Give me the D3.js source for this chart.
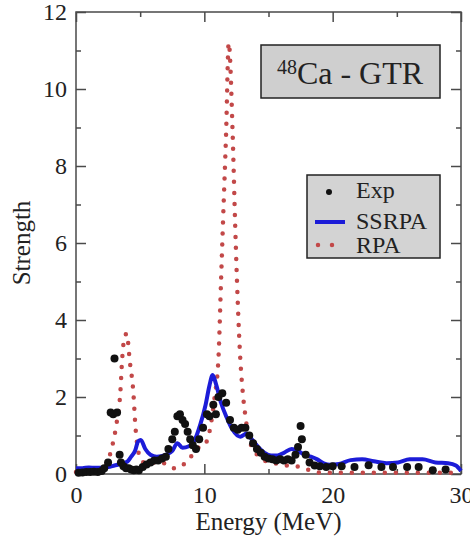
<!DOCTYPE html>
<html>
<head>
<meta charset="utf-8">
<script src="https://cdn.jsdelivr.net/npm/d3@7"></script>
<style>
  body { margin: 0; background: #fff; }
</style>
</head>
<body>
<div id="viz"></div>
<script>
// experimental points
const expE = [0.2, 0.5, 0.8, 1.1, 1.4, 1.7, 2.0, 2.2, 2.5, 2.7, 2.9, 3.0, 3.2, 3.4, 3.5, 3.7, 3.9, 4.1, 4.3, 4.5,
              4.7, 4.9, 5.2, 5.5, 5.8, 6.1, 6.4, 6.7, 7.0, 7.2, 7.5, 7.7, 7.9, 8.1, 8.3, 8.5, 8.7, 8.9, 9.1, 9.35,
              9.6, 9.9, 10.2, 10.4, 10.7, 10.9, 11.1, 11.4, 11.7, 12.0, 12.3, 12.6, 12.9, 13.2, 13.5, 13.8, 14.1, 14.4, 14.7, 15.0,
              15.3, 15.6, 15.9, 16.2, 16.5, 16.8, 17.1, 17.3, 17.5, 17.6, 17.9, 18.2, 18.6, 19.0, 19.5, 20.0, 20.7, 21.7, 22.8, 23.8,
              24.7, 25.8, 26.7, 27.8, 28.8];
const expS = [0.03, 0.04, 0.05, 0.05, 0.06, 0.05, 0.08, 0.15, 0.3, 1.6, 1.55, 3.0, 1.6, 0.5, 0.3, 0.2, 0.15, 0.15, 0.12, 0.1,
              0.12, 0.1, 0.18, 0.25, 0.3, 0.35, 0.35, 0.4, 0.45, 0.65, 0.9, 1.1, 1.5, 1.55, 1.4, 1.3, 1.1, 0.9, 0.75, 0.65,
              0.9, 1.2, 1.55, 1.5, 1.8, 1.55, 2.0, 2.1, 1.85, 1.4, 1.2, 1.15, 1.2, 1.2, 1.0, 0.8, 0.65, 0.55, 0.45, 0.4,
              0.38, 0.35, 0.38, 0.35, 0.38, 0.35, 0.5, 0.7, 1.25, 0.9, 0.5, 0.3, 0.22, 0.2, 0.18, 0.2, 0.2, 0.18, 0.23, 0.18,
              0.18, 0.18, 0.18, 0.1, 0.12];

// SSRPA curve
const ssrpaE = [0, 0.5, 1, 1.5, 2, 2.5, 3, 3.5, 4, 4.3, 4.6, 4.85, 5.05, 5.4, 5.8, 6.3, 7, 7.5, 7.9, 8.3,
                8.8, 9.2, 9.7, 10.1, 10.4, 10.65, 10.9, 11.3, 11.7, 12.2, 12.8, 13.3, 13.7, 14.2, 14.7, 15.2, 15.7, 16.2, 16.8, 17.3,
                17.8, 18.3, 18.8, 19.3, 19.8, 20.5, 21.4, 22.3, 23.2, 24.2, 25.1, 26, 27, 28, 29, 29.6, 30];
const ssrpaS = [0.15, 0.15, 0.17, 0.16, 0.16, 0.18, 0.22, 0.26, 0.32, 0.45, 0.6, 0.85, 0.88, 0.65, 0.5, 0.45, 0.5, 0.6, 0.8, 0.68,
                0.72, 0.85, 1.3, 1.8, 2.3, 2.57, 2.35, 1.85, 1.5, 1.15, 0.97, 1.05, 0.9, 0.7, 0.55, 0.48, 0.48, 0.55, 0.65, 0.6,
                0.5, 0.45, 0.38, 0.28, 0.24, 0.26, 0.36, 0.38, 0.33, 0.28, 0.3, 0.38, 0.38, 0.3, 0.28, 0.22, 0.08];

// RPA curve
const rpaE = [0, 0.5, 1, 1.5, 2, 2.3, 2.6, 2.8, 3.0, 3.2, 3.45, 3.6, 3.75, 3.95, 4.2, 4.45, 4.65, 4.85, 5.1, 5.6,
              6.2, 6.7, 7.2, 7.7, 8.2, 8.7, 9.2, 9.6, 10.0, 10.4, 10.8, 11.1, 11.3, 11.45, 11.7, 11.9, 12.2, 12.4, 12.6, 12.8,
              13.0, 13.2, 13.5, 13.9, 14.5, 15, 15.5, 16, 16.5, 17, 17.5, 18, 18.5, 19, 20, 22, 24, 26, 28, 30];
const rpaS = [0.05, 0.06, 0.08, 0.1, 0.12, 0.2, 0.45, 0.7, 1.0, 1.4, 2.1, 3.0, 3.5, 3.65, 2.9, 2.2, 1.15, 0.6, 0.35, 0.25,
              0.3, 0.3, 0.2, 0.15, 0.2, 0.35, 0.55, 0.7, 0.75, 1.1, 2.0, 3.0, 5.0, 6.5, 8.9, 11.2, 8.9, 6.5, 4.5, 3.0,
              2.1, 1.5, 0.9, 0.6, 0.4, 0.3, 0.28, 0.25, 0.22, 0.2, 0.18, 0.12, 0.06, 0.04, 0.03, 0.03, 0.03, 0.03, 0.03, 0.03];

const xMajor = [0, 10, 20, 30];
const xMinor = [5, 15, 25];
const yMajor = [0, 2, 4, 6, 8, 10, 12];
const yMinor = [1, 3, 5, 7, 9, 11];

const width = 470, height = 546;
const margin = {top: 12, right: 9, bottom: 72, left: 76};
const w = width - margin.left - margin.right;
const h = height - margin.top - margin.bottom;

const blue = '#1c1cd8', red = '#c24848', frame = '#4a4a4a';
const serif = 'Liberation Serif';

const svg = d3.select('#viz')
    .append('svg')
    .attr('width', width)
    .attr('height', height)
    .attr('font-family', serif);

const g = svg.append('g')
    .attr('transform', `translate(${margin.left},${margin.top})`);

let xScale = d3.scaleLinear().domain([0, 30]).range([0, w]);
let yScale = d3.scaleLinear().domain([0, 12]).range([h, 0]);

// frame
g.append('rect')
    .attr('width', w)
    .attr('height', h)
    .attr('fill', 'none')
    .attr('stroke', frame)
    .attr('stroke-width', 1.5);

// ticks point inward on all four sides
function drawAxis(axis, transform, labels) {
    const a = g.append('g')
        .attr('transform', transform)
        .call(axis)
        .attr('font-family', serif)
        .attr('font-size', 24);
    a.select('.domain').remove();
    a.selectAll('line').attr('stroke', frame).attr('stroke-width', 1.5);
    if (!labels) a.selectAll('text').remove();
    a.selectAll('text').attr('fill', '#222');
    return a;
}

drawAxis(d3.axisBottom(xScale).tickValues(xMinor).tickSize(-5), `translate(0,${h})`, false);
drawAxis(d3.axisTop(xScale).tickValues(xMinor).tickSize(-5), 'translate(0,0)', false);
drawAxis(d3.axisTop(xScale).tickValues(xMajor).tickSize(-10), 'translate(0,0)', false);
drawAxis(d3.axisLeft(yScale).tickValues(yMinor).tickSize(-5), 'translate(0,0)', false);
drawAxis(d3.axisRight(yScale).tickValues(yMinor).tickSize(-5), `translate(${w},0)`, false);
drawAxis(d3.axisRight(yScale).tickValues(yMajor).tickSize(-10), `translate(${w},0)`, false);
drawAxis(d3.axisBottom(xScale).tickValues(xMajor).tickSize(-10).tickPadding(12), `translate(0,${h})`, true);
drawAxis(d3.axisLeft(yScale).tickValues(yMajor).tickSize(-10).tickPadding(9), 'translate(0,0)', true);

// curves
const line = (xs, ys) => d3.line()
    .x((d, i) => xScale(xs[i]))
    .y((d, i) => yScale(ys[i]))
    .curve(d3.curveMonotoneX)(xs);

g.append('path')
    .attr('d', line(rpaE, rpaS))
    .attr('fill', 'none')
    .attr('stroke', red)
    .attr('stroke-width', 4.5)
    .attr('stroke-linecap', 'round')
    .attr('stroke-dasharray', '0 11');

g.append('path')
    .attr('d', line(ssrpaE, ssrpaS))
    .attr('fill', 'none')
    .attr('stroke', blue)
    .attr('stroke-width', 4);

g.selectAll('circle.exp').data(expE)
    .enter()
    .append('circle')
    .attr('class', 'exp')
    .attr('cx', d => xScale(d))
    .attr('cy', (d, i) => yScale(expS[i]))
    .attr('r', 4)
    .attr('fill', '#111');

// axis titles
svg.append('text')
    .attr('x', margin.left + w / 2)
    .attr('y', 530)
    .attr('text-anchor', 'middle')
    .attr('font-size', 25)
    .attr('fill', '#222')
    .text('Energy (MeV)');

svg.append('text')
    .attr('transform', `translate(30,${margin.top + h / 2}) rotate(-90)`)
    .attr('text-anchor', 'middle')
    .attr('font-size', 25)
    .attr('fill', '#222')
    .text('Strength');

// title box
svg.append('rect')
    .attr('x', 261).attr('y', 45)
    .attr('width', 179).attr('height', 53)
    .attr('fill', '#cfcfcf')
    .attr('stroke', '#222')
    .attr('stroke-width', 1.5);

const title = svg.append('text')
    .attr('x', 350)
    .attr('y', 84)
    .attr('text-anchor', 'middle')
    .attr('font-size', 32)
    .attr('fill', '#222');
title.append('tspan').attr('font-size', 20).attr('dy', -10).text('48');
title.append('tspan').attr('dy', 10).text('Ca - GTR');

// legend
const leg = svg.append('g');
leg.append('rect')
    .attr('x', 307).attr('y', 175)
    .attr('width', 133).attr('height', 83)
    .attr('fill', '#d3d3d3')
    .attr('stroke', '#222')
    .attr('stroke-width', 1.5);

leg.append('circle').attr('cx', 329).attr('cy', 192).attr('r', 3).attr('fill', '#111');
leg.append('line')
    .attr('x1', 315).attr('x2', 345).attr('y1', 222).attr('y2', 222)
    .attr('stroke', blue).attr('stroke-width', 4);
leg.append('line')
    .attr('x1', 318).attr('x2', 334).attr('y1', 245).attr('y2', 245)
    .attr('stroke', red).attr('stroke-width', 4.5)
    .attr('stroke-linecap', 'round')
    .attr('stroke-dasharray', '0 14');

const legNames = ['Exp', 'SSRPA', 'RPA'];
const legY = [198, 229, 253];
leg.selectAll('text.lab').data(legNames)
    .enter()
    .append('text')
    .attr('class', 'lab')
    .attr('x', 356)
    .attr('y', (d, i) => legY[i])
    .attr('font-size', 24)
    .attr('fill', '#222')
    .text(d => d);
</script>
</body>
</html>
